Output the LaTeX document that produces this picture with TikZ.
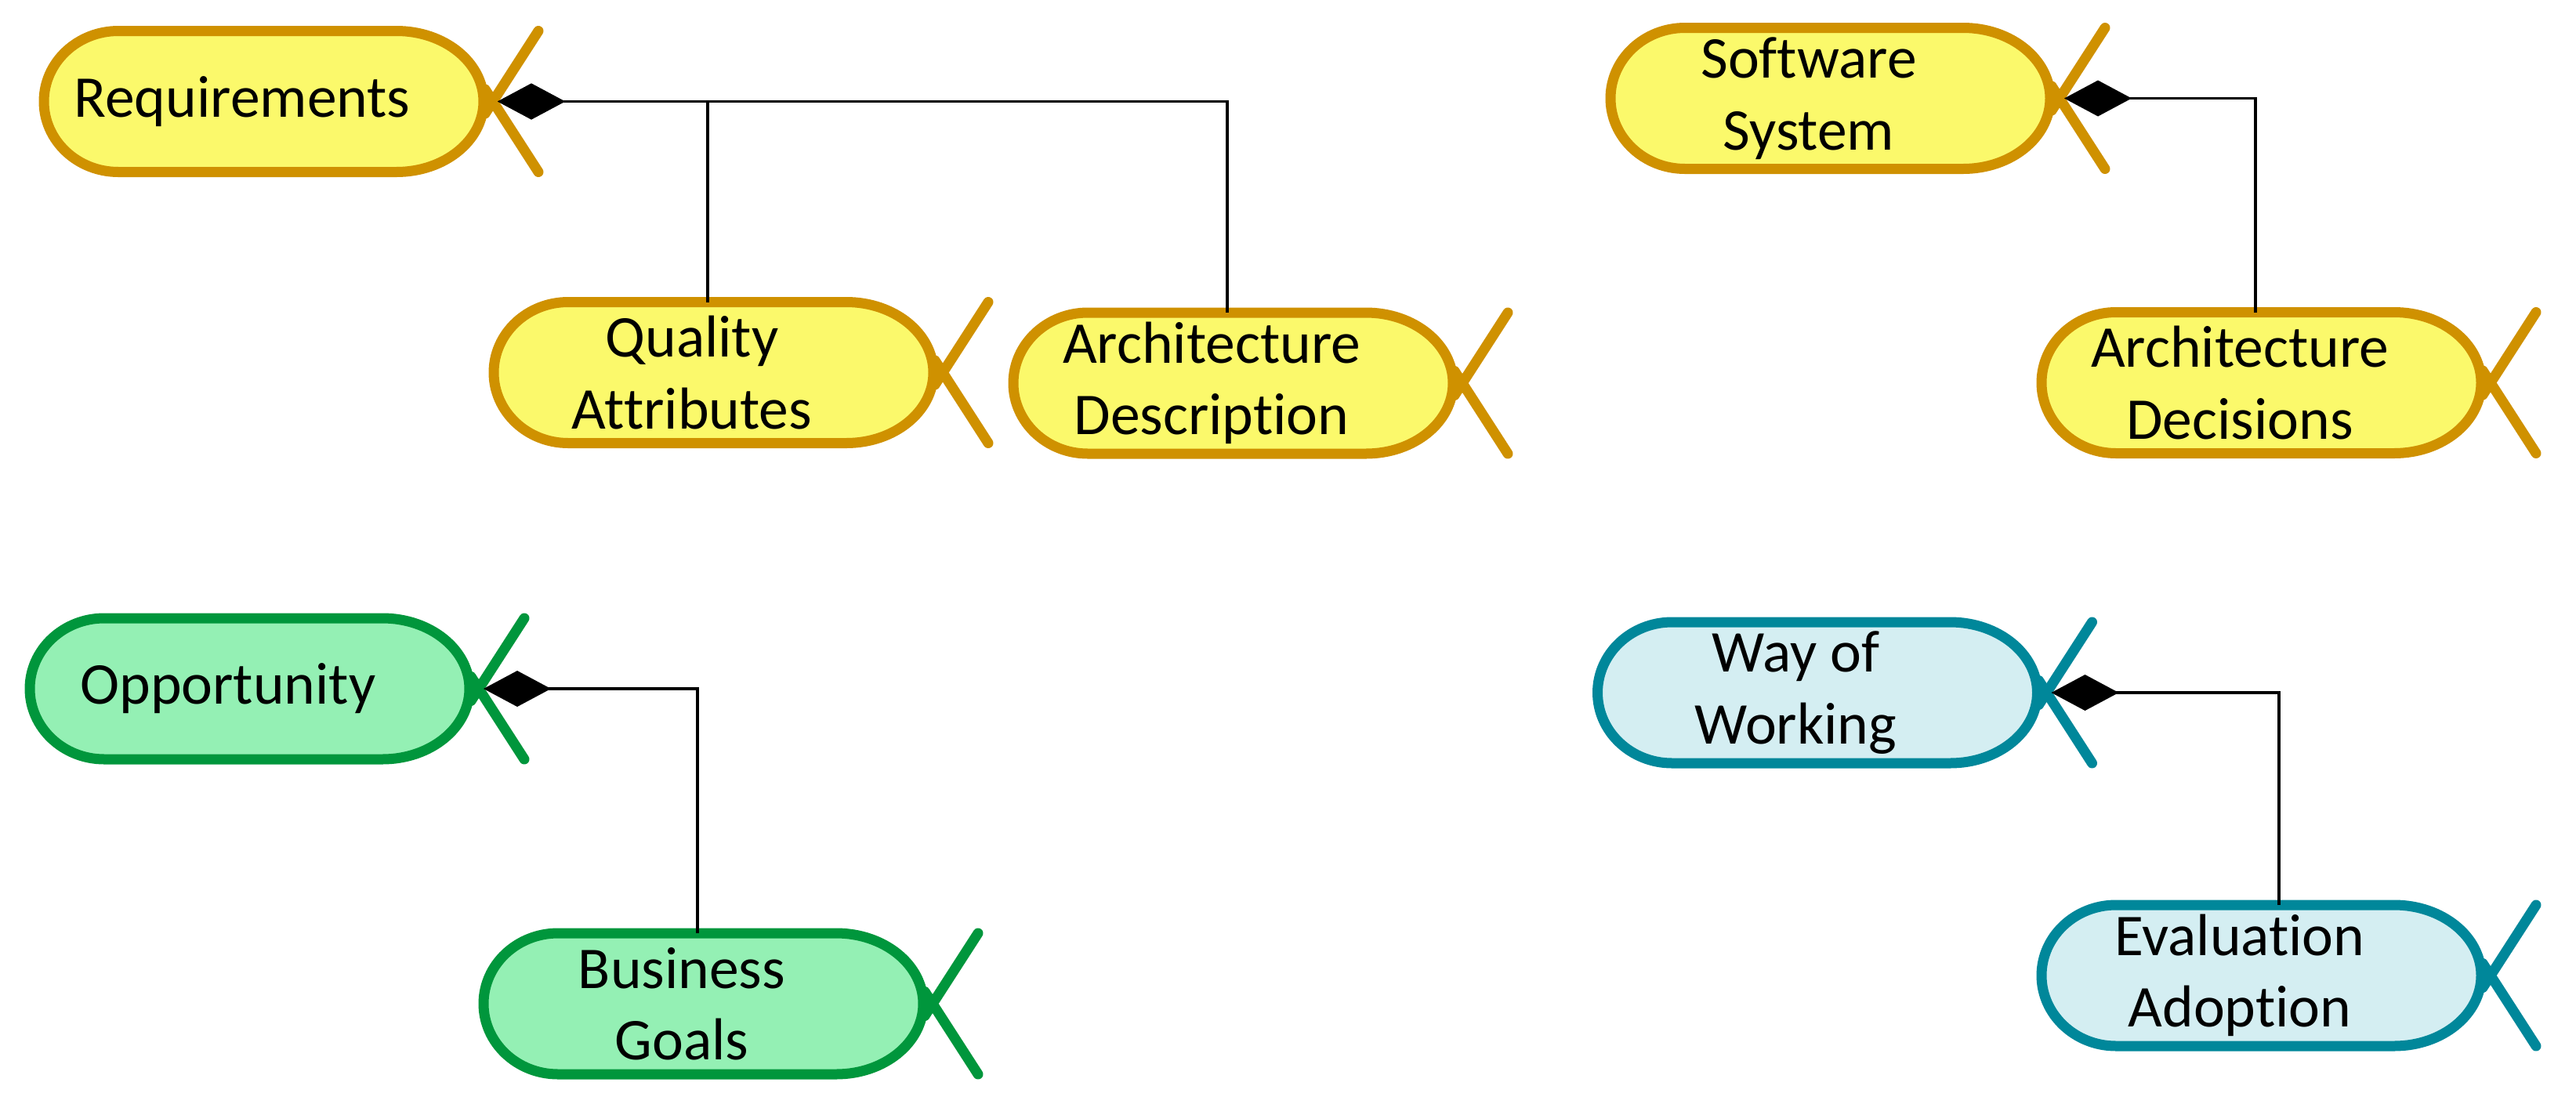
\documentclass[tikz,border=0pt]{standalone}
\usepackage{fontspec}
\setmainfont{Carlito}[Ligatures=NoCommon]
\usetikzlibrary{arrows.meta}

\definecolor{reqfill}{HTML}{FBF96B}
\definecolor{reqline}{HTML}{CF9100}
\definecolor{oppfill}{HTML}{94F0B4}
\definecolor{oppline}{HTML}{00963C}
\definecolor{wayfill}{HTML}{D4EEF2}
\definecolor{wayline}{HTML}{00879A}

% alpha: name, tail point, text, colour style
\newcommand{\essalpha}[4]{%
	\begin{scope}[shift={(#2)}]
		\filldraw[alphabody, #4] (-4.78,0.9) -- (-1.23,0.9)
			arc[start angle=90, end angle=-90, x radius=1.11, y radius=0.9] -- (-4.78,-0.9)
			arc[start angle=270, end angle=90, x radius=0.95, y radius=0.9] -- cycle;
		\draw[alphabody, #4, fill=none] (0.58,0.9) -- (-0.1,-0.155);
		\draw[alphabody, #4, fill=none] (0.58,-0.9) -- (-0.1,0.155);
		\coordinate (#1-tip) at (0,0);
		\coordinate (#1-top) at (-3,0.9);
		\node[alphatext] (#1) at (-3.2,0) {#3};
	\end{scope}}

\begin{document}
\begin{tikzpicture}[
		alphabody/.style={line width=3.7pt, line join=round, line cap=round},
		reqcol/.style={draw=reqline, fill=reqfill},
		oppcol/.style={draw=oppline, fill=oppfill},
		waycol/.style={draw=wayline, fill=wayfill},
		alphatext/.style={align=center, inner sep=0pt, font=\fontsize{21.5}{26}\selectfont},
		link/.style={line width=1pt, shorten <=0.6mm, {Diamond[length=8.6mm,width=4.6mm]}-}
	]
				\useasboundingbox (0,0) rectangle (32.87,-14.08);
				
				% Requirements
				\essalpha{req}{6.29,-1.295}{Requirements}{reqcol}
				% Quality Attributes
				\essalpha{qa}{12.03,-4.755}{Quality\\Attributes}{reqcol}
				% Architecture Description
				\essalpha{ad}{18.66,-4.89}{Architecture\\Description}{reqcol}
				
				% Software System
				\essalpha{ss}{26.28,-1.255}{Software\\System}{reqcol}
				% Architecture Decisions
				\essalpha{adec}{31.78,-4.885}{Architecture\\Decisions}{reqcol}
				
				% Opportunity
				\essalpha{opp}{6.11,-8.79}{Opportunity}{oppcol}
				% Business Goals
				\essalpha{bg}{11.90,-12.81}{Business\\Goals}{oppcol}
				
				% Way of Working
				\essalpha{wow}{26.115,-8.84}{Way of\\Working}{waycol}
				% Evaluation Adoption
				\essalpha{ea}{31.78,-12.45}{Evaluation\\Adoption}{waycol}
				
				%parts
				\draw[link] (req-tip) -| (qa-top);
				\draw[link] (req-tip) -| (ad-top);
				\draw[link] (ss-tip) -| (adec-top);
				\draw[link] (opp-tip) -| (bg-top);
				\draw[link] (wow-tip) -| ([xshift=3mm]ea-top);
			\end{tikzpicture}
\end{document}
